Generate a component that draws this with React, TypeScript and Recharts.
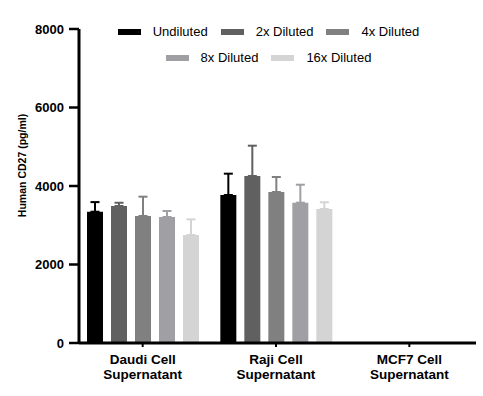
import React from 'react';
import { BarChart, Bar, XAxis, YAxis, ErrorBar } from 'recharts';

const categories = ['Daudi Cell Supernatant', 'Raji Cell Supernatant', 'MCF7 Cell Supernatant'];
const seriesNames = ['Undiluted', '2x Diluted', '4x Diluted', '8x Diluted', '16x Diluted'];
const seriesColors = ['#000000', '#606060', '#808080', '#a0a0a4', '#d4d4d4'];

// mean values per series (MCF7 not detected)
const undiluted = [3345, 3771, null];
const diluted2x = [3490, 4255, null];
const diluted4x = [3236, 3847, null];
const diluted8x = [3210, 3575, null];
const diluted16x = [2752, 3414, null];

// upper error (SD)
const undilutedErr = [245, 543, null];
const diluted2xErr = [83, 772, null];
const diluted4xErr = [492, 382, null];
const diluted8xErr = [153, 458, null];
const diluted16xErr = [398, 171, null];

const yTicks = [0, 2000, 4000, 6000, 8000];

const values = [undiluted, diluted2x, diluted4x, diluted8x, diluted16x];
const errors = [undilutedErr, diluted2xErr, diluted4xErr, diluted8xErr, diluted16xErr];

const rows = categories.map((name, i) => {
  const row: Record<string, any> = { name };
  values.forEach((v, s) => {
    row['s' + s] = v[i];
    row['e' + s] = errors[s][i] == null ? null : [0, errors[s][i]];
  });
  return row;
});

const CatTick = (props: any) => {
  const { x, y, payload } = props;
  const words = String(payload.value).split(' ');
  const first = words.slice(0, -1).join(' ');
  const last = words[words.length - 1];
  return (
    <g>
      <text x={x} y={y + 15} textAnchor="middle" fill="#000" fontSize={13.5} fontWeight="bold">
        {first}
      </text>
      <text x={x} y={y + 30} textAnchor="middle" fill="#000" fontSize={13.5} fontWeight="bold">
        {last}
      </text>
    </g>
  );
};

const YLabel = () => (
  <text
    transform="translate(25.5,165.5) rotate(-90)"
    textAnchor="middle"
    fill="#000"
    fontSize={10.5}
    fontWeight="bold"
  >
    Human CD27 (pg/ml)
  </text>
);

export default function App() {
  return (
    <div
      style={{
        position: 'absolute',
        left: 0,
        top: 0,
        width: 483,
        height: 396,
        background: '#fff',
        fontFamily: '"Liberation Sans", Arial, sans-serif',
      }}
    >
      <BarChart
        width={483}
        height={396}
        data={rows}
        margin={{ top: 29, right: 7, bottom: 0, left: 0 }}
        barSize={16}
        barGap={8}
      >
        <XAxis
          dataKey="name"
          height={53}
          padding={{ left: -3, right: 0 }}
          interval={0}
          axisLine={{ stroke: '#000', strokeWidth: 3 }}
          tickLine={{ stroke: '#000', strokeWidth: 2 }}
          tickSize={4}
          tick={<CatTick />}
        />
        <YAxis
          width={79}
          domain={[0, 8000]}
          ticks={yTicks}
          interval={0}
          axisLine={{ stroke: '#000', strokeWidth: 3 }}
          tickLine={{ stroke: '#000', strokeWidth: 2.5 }}
          tickSize={10}
          tickMargin={5}
          tick={{ fill: '#000', fontSize: 13, fontWeight: 'bold' }}
          label={<YLabel />}
        />
        {seriesNames.map((n, s) => (
          <Bar key={n} dataKey={'s' + s} name={n} fill={seriesColors[s]} isAnimationActive={false}>
            <ErrorBar
              dataKey={'e' + s}
              direction="y"
              width={4.5}
              stroke={seriesColors[s]}
              strokeWidth={2}
              isAnimationActive={false}
            />
          </Bar>
        ))}
      </BarChart>
      <div
        style={{
          position: 'absolute',
          left: 113.5,
          top: 24,
          width: 310,
          display: 'flex',
          flexWrap: 'wrap',
          justifyContent: 'center',
          columnGap: 13,
          rowGap: 11,
          fontSize: 13,
          lineHeight: '15px',
          color: '#000',
        }}
      >
        {seriesNames.map((n, s) => (
          <div key={n} style={{ display: 'flex', alignItems: 'center' }}>
            <div style={{ width: 23, height: 6, background: seriesColors[s], marginRight: 12 }} />
            <span>{n}</span>
          </div>
        ))}
      </div>
    </div>
  );
}
